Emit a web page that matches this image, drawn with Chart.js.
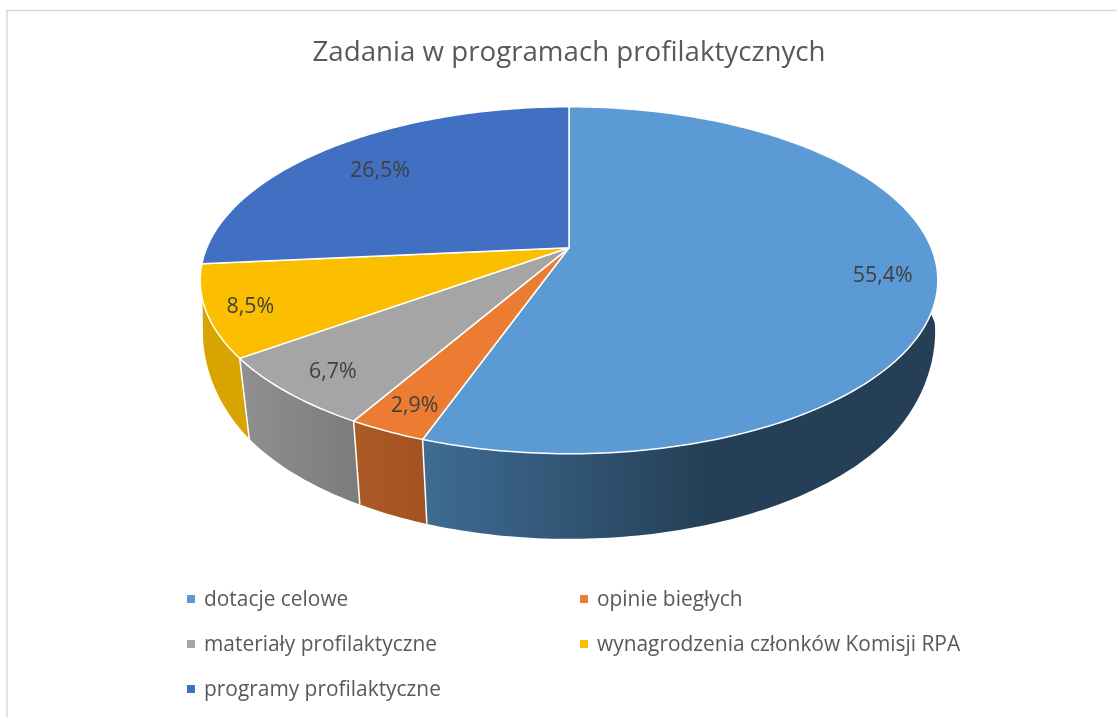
<!DOCTYPE html>
<html lang="pl">
<head>
<meta charset="utf-8">
<title>Zadania w programach profilaktycznych</title>
<script src="https://cdn.jsdelivr.net/npm/chart.js@4"></script>
<style>
  html, body { margin: 0; padding: 0; background: #fff; }
  canvas { display: block; }
</style>
</head>
<body>
<canvas id="wykres" width="1117" height="717"></canvas>
<script>
// Dane
const kategorie = ['dotacje celowe', 'opinie biegłych', 'materiały profilaktyczne', 'wynagrodzenia członków Komisji RPA', 'programy profilaktyczne'];
const udzialy = [55.4, 2.9, 6.7, 8.5, 26.5];

// Kolory
const koloryGora = ['#5b9ad5', '#eb7c31', '#a5a5a5', '#fcbf00', '#4170c2'];
const koloryBokStart = ['#3f6c94', '#ad5b25', '#909090', '#d8a400', '#2a4474'];
const koloryBokKoniec = ['#243f56', '#a35321', '#7c7c7c', '#d8a400', '#2a4474'];

const CZCIONKA = '"Open Sans", sans-serif';

// Rzut perspektywiczny tarczy: kąty i promień bierzemy z elementów łuku Chart.js
const rzut = {
  k: 0.187,          // siła perspektywy
  skalaX: 2.164,     // rozciągnięcie poziome górnej tarczy
  skalaY: 1,
  dolX: 2.101,       // dolna tarcza
  dolXBok: 0.084,    // poszerzenie dolnej tarczy przy bokach
  dolY: 1.049,
  dolDy: 75          // przesunięcie środka dolnej tarczy
};

function punktGora(el, kat, r) {
  const u = Math.cos(kat) * r, v = Math.sin(kat) * r;
  const m = 1 - rzut.k * v;
  return [el.x + el.outerRadius * rzut.skalaX * u / m, el.y + el.outerRadius * rzut.skalaY * v / m];
}

function punktDol(el, kat) {
  const u = Math.cos(kat), v = Math.sin(kat);
  const m = 1 - rzut.k * v;
  const bok = Math.max(0, 1 - Math.max(v, 0) / 0.5);
  const sx = rzut.dolX + rzut.dolXBok * bok * bok;
  return [el.x + el.outerRadius * sx * u / m, el.y + rzut.dolDy + el.outerRadius * rzut.dolY * v / m];
}

function katyLuku(el) {
  const n = Math.max(2, Math.ceil((el.endAngle - el.startAngle) * 60));
  const katy = [];
  for (let i = 0; i <= n; i++) katy.push(el.startAngle + (el.endAngle - el.startAngle) * i / n);
  return katy;
}

const tarcza3d = {
  id: 'tarcza3d',
  beforeDraw(chart) {
    // ramka obszaru wykresu (prawa i dolna krawędź poza kadrem)
    const ctx = chart.ctx;
    ctx.save();
    ctx.strokeStyle = '#d9d9d9';
    ctx.lineWidth = 1.5;
    ctx.beginPath();
    ctx.moveTo(7, chart.height);
    ctx.lineTo(7, 10.5);
    ctx.lineTo(chart.width, 10.5);
    ctx.stroke();
    ctx.restore();
  },
  beforeDatasetsDraw(chart) {
    const ctx = chart.ctx;
    const luki = chart.getDatasetMeta(0).data;
    ctx.save();
    ctx.lineJoin = 'round';

    // boki, od tyłu do przodu (tylny wycinek nie ma widocznego boku)
    const kolejnosc = [0, 3, 2, 1];
    kolejnosc.forEach(i => {
      const el = luki[i];
      const katy = katyLuku(el);
      const xStart = punktGora(el, el.startAngle, 1)[0];
      const xKoniec = punktGora(el, el.endAngle, 1)[0];
      let lewy = Math.min(xStart, xKoniec), prawy = Math.max(xStart, xKoniec);
      if (i === 0) { prawy = lewy + 284; }
      const grad = ctx.createLinearGradient(lewy, 0, prawy, 0);
      grad.addColorStop(0, koloryBokStart[i]);
      grad.addColorStop(1, koloryBokKoniec[i]);
      ctx.fillStyle = grad;
      ctx.beginPath();
      katy.forEach((a, j) => {
        const p = punktGora(el, a, 1);
        if (j === 0) ctx.moveTo(p[0], p[1]); else ctx.lineTo(p[0], p[1]);
      });
      katy.slice().reverse().forEach(a => {
        const p = punktDol(el, a);
        ctx.lineTo(p[0], p[1]);
      });
      ctx.closePath();
      ctx.fill();
    });

    // białe szwy między bokami
    ctx.strokeStyle = '#ffffff';
    ctx.lineWidth = 1.5;
    [0, 1, 2].forEach(i => {
      const el = luki[i];
      const a = punktGora(el, el.endAngle, 1), b = punktDol(el, el.endAngle);
      ctx.beginPath();
      ctx.moveTo(a[0], a[1]);
      ctx.lineTo(b[0], b[1]);
      ctx.stroke();
    });

    // górna tarcza
    luki.forEach((el, i) => {
      ctx.fillStyle = koloryGora[i];
      ctx.beginPath();
      ctx.moveTo(el.x, el.y);
      katyLuku(el).forEach(a => {
        const p = punktGora(el, a, 1);
        ctx.lineTo(p[0], p[1]);
      });
      ctx.closePath();
      ctx.fill();
      ctx.stroke();
    });

    // etykiety procentowe
    const promienEtykiet = [0.855, 0.87, 0.859, 0.885, 0.774];
    ctx.fillStyle = '#404040';
    ctx.font = '21.4px ' + CZCIONKA;
    ctx.textAlign = 'center';
    ctx.textBaseline = 'middle';
    luki.forEach((el, i) => {
      const p = punktGora(el, (el.startAngle + el.endAngle) / 2, promienEtykiet[i]);
      ctx.fillText(udzialy[i].toFixed(1).replace('.', ',') + '%', p[0], p[1] + 3);
    });
    ctx.restore();
    return false;
  },
  afterDraw(chart) {
    // legenda w dwóch kolumnach
    const ctx = chart.ctx;
    const kolumny = [187, 580], wiersze = [600, 645, 690];
    ctx.save();
    ctx.font = '20.9px ' + CZCIONKA;
    ctx.textBaseline = 'middle';
    ctx.textAlign = 'left';
    chart.data.labels.forEach((tekst, i) => {
      const x = kolumny[i % 2], y = wiersze[Math.floor(i / 2)];
      ctx.fillStyle = koloryGora[i];
      ctx.fillRect(x, y - 5, 8, 8);
      ctx.fillStyle = '#595959';
      ctx.fillText(tekst, x + 17, y);
    });
    ctx.restore();
  }
};

const ctx = document.getElementById('wykres').getContext('2d');
const chart = new Chart(ctx, {
  type: 'pie',
  data: {
    labels: kategorie,
    datasets: [{
      data: udzialy,
      backgroundColor: koloryGora,
      borderColor: '#ffffff',
      borderWidth: 1.5
    }]
  },
  options: {
    responsive: false,
    animation: false,
    layout: { padding: { left: 21, top: 0, right: 0, bottom: 301 } },
    plugins: {
      legend: { display: false },
      tooltip: { enabled: false },
      title: {
        display: true,
        text: 'Zadania w programach profilaktycznych',
        color: '#595959',
        font: { family: CZCIONKA, size: 27.7, weight: 'normal', lineHeight: 1.2 },
        padding: { top: 36, bottom: 10.4 }
      }
    }
  },
  plugins: [tarcza3d]
});
</script>
</body>
</html>
